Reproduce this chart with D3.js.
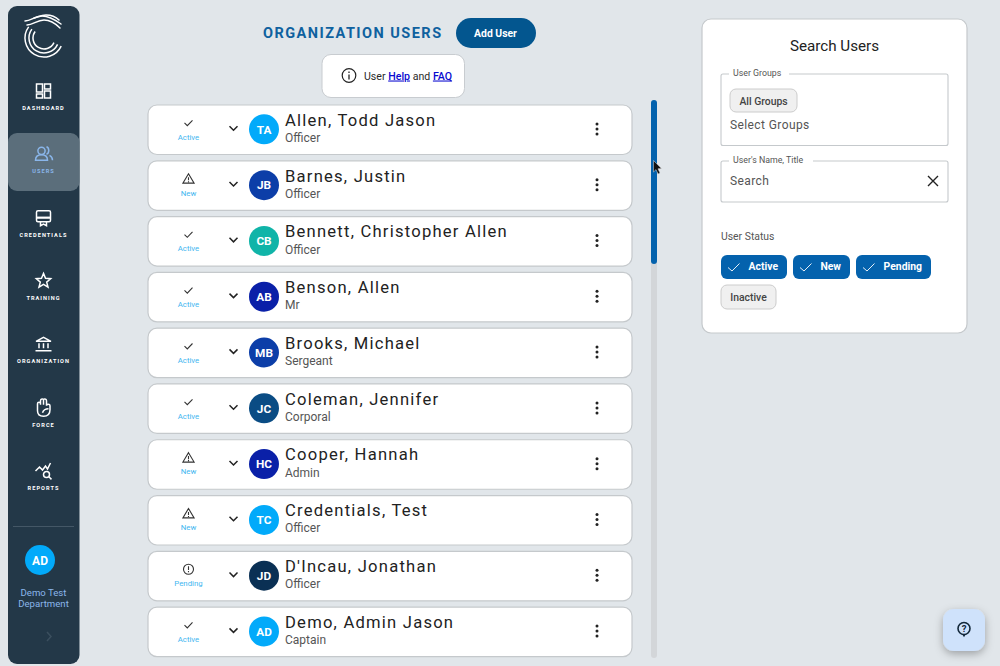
<!DOCTYPE html>
<html>
<head>
<meta charset="utf-8">
<script src="https://cdn.jsdelivr.net/npm/d3@7"></script>
<style>
  html, body { margin: 0; padding: 0; background: #e1e6ea; overflow: hidden; }
  svg { display: block; font-family: Roboto, sans-serif; }
</style>
</head>
<body>
<div id="app"></div>
<script>
// Data
const userNames = ["Allen, Todd Jason", "Barnes, Justin", "Bennett, Christopher Allen", "Benson, Allen", "Brooks, Michael",
  "Coleman, Jennifer", "Cooper, Hannah", "Credentials, Test", "D'Incau, Jonathan", "Demo, Admin Jason"];
const userTitles = ["Officer", "Officer", "Officer", "Mr", "Sergeant", "Corporal", "Admin", "Officer", "Officer", "Captain"];
const userStatuses = ["Active", "New", "Active", "Active", "Active", "Active", "New", "New", "Pending", "Active"];
const userInitials = ["TA", "JB", "CB", "AB", "MB", "JC", "HC", "TC", "JD", "AD"];
const navLabels = ["DASHBOARD", "USERS", "CREDENTIALS", "TRAINING", "ORGANIZATION", "FORCE", "REPORTS"];
const deptLines = ["Demo Test", "Department"];
const statusFilters = ["Active", "New", "Pending"];

const width = 1000, height = 666;

const svg = d3.select("#app").append("svg")
  .attr("width", width)
  .attr("height", height);

svg.append("rect").attr("width", width).attr("height", height).attr("fill", "#e1e6ea");

const defs = svg.append("defs");
const blur = defs.append("filter").attr("id", "shadow").attr("x", "-40%").attr("y", "-40%").attr("width", "180%").attr("height", "180%");
blur.append("feDropShadow").attr("dx", 0).attr("dy", 3).attr("stdDeviation", 4).attr("flood-color", "#000").attr("flood-opacity", 0.3);

// Scales
const rowScale = d3.scaleBand().domain(userNames).range([105, 656.6]).paddingInner(0.113).paddingOuter(0);
const navScale = d3.scalePoint().domain(navLabels).range([110, 490]);
const avatarColor = d3.scaleOrdinal()
  .domain(userInitials)
  .range(["#02aafa", "#0c3ea8", "#10b4a8", "#0a20a8", "#0c3ea8", "#0a4c84", "#0a20a8", "#02aafa", "#0a3054", "#02aafa"]);
const chipX = d3.scaleOrdinal().domain(statusFilters).range([721, 793, 856]);
const chipW = d3.scaleOrdinal().domain(statusFilters).range([66, 57, 75]);

// Sidebar
const side = svg.append("g");
side.append("rect").attr("x", 8).attr("y", 6).attr("width", 71.5).attr("height", 658).attr("rx", 9).attr("fill", "#233848");
side.append("rect").attr("x", 8).attr("y", 133).attr("width", 71.5).attr("height", 58).attr("rx", 9).attr("fill", "#5b6e7b");

// Logo: nested arcs with waves on top
const logo = side.append("g").attr("fill", "none").attr("stroke", "#fff").attr("stroke-width", 1.5).attr("stroke-linecap", "round");
[19, 15, 11].forEach(r => {
  logo.append("path")
    .attr("transform", "translate(44,38)")
    .attr("d", d3.arc().innerRadius(r).outerRadius(r).startAngle(-0.3 * Math.PI).endAngle(-1.36 * Math.PI)());
});
logo.append("path").attr("d", "M25 21C31 21 35 16 42 16C49 16 54 19 61 24");
logo.append("path").attr("d", "M27 25C33 25 37 20 44 20C50 20 55 23 60 28");
logo.append("path").attr("d", "M34 18C38 17 41 15 46 15C51 15 55 16 59 20");

// Nav icons, one path set per label, drawn around (0,0)
const navIcons = {
  DASHBOARD: g => {
    [[-7, -7, 6, 8], [1, -7, 6, 5], [-7, 3, 6, 4], [1, 0, 6, 7]].forEach(r => {
      g.append("rect").attr("x", r[0]).attr("y", r[1]).attr("width", r[2]).attr("height", r[3]);
    });
  },
  USERS: g => {
    g.append("circle").attr("cx", -2).attr("cy", -3.5).attr("r", 3.6);
    g.append("path").attr("d", "M-8 6C-8 1 -5 0.5 -2 0.5C1 0.5 4 1 4 6Z");
    g.append("path").attr("d", "M3 -7.5C6 -6.5 6 -1 3 0M6 1C8 2 9 3 9 6");
  },
  CREDENTIALS: g => {
    g.append("rect").attr("x", -7).attr("y", -7).attr("width", 14).attr("height", 11).attr("rx", 1.5);
    g.append("path").attr("d", "M-7 0H7").attr("stroke-width", 2.2);
    g.append("path").attr("d", "M-3 4V8L0 6.4L3 8V4");
  },
  TRAINING: g => {
    g.append("path").attr("d", d3.range(10).map(i => {
      const r = i % 2 ? 3.4 : 7.6, a = -Math.PI / 2 + i * Math.PI / 5;
      return (i ? "L" : "M") + (r * Math.cos(a)).toFixed(1) + " " + (r * Math.sin(a)).toFixed(1);
    }).join("") + "Z");
  },
  ORGANIZATION: g => {
    g.append("path").attr("d", "M-7.5 -3L0 -7L7.5 -3ZM-8 6.5H8M-4.5 -1V4M0 -1V4M4.5 -1V4");
  },
  FORCE: g => {
    g.append("path").attr("d", "M-6 -4V3C-6 7 -3 8.5 0 8.5C4 8.5 6.5 6 6.5 2V-2M-3 -3V-7M0 -3V-8M3 -2V-7M-6 -4C-6 -6 -3 -6 -3 -4M-3 -7C-3 -9 0 -9 0 -8M0 -8C0 -9 3 -9 3 -7M3 -2C3 -4 6.5 -4 6.5 -2M-1 5C0 2 3 1 5 1");
  },
  REPORTS: g => {
    g.append("path").attr("d", "M-8 0L-4 -4L-1 -1L2 -5L4 -2L7 -8");
    g.append("circle").attr("cx", 3).attr("cy", 3.5).attr("r", 3);
    g.append("path").attr("d", "M5.4 5.8L8 8.4");
  }
};

const nav = side.selectAll("g.nav").data(navLabels).enter().append("g")
  .attr("class", "nav")
  .attr("transform", d => `translate(43.5,${navScale(d)})`);
nav.each(function (d) {
  const g = d3.select(this).append("g")
    .attr("transform", "translate(0,-19)")
    .attr("fill", "none")
    .attr("stroke", d === "USERS" ? "#8ab6ea" : "#fff")
    .attr("stroke-width", 1.5);
  navIcons[d](g);
});
nav.append("text")
  .attr("text-anchor", "middle")
  .attr("font-size", 5.6)
  .attr("font-weight", 700)
  .attr("letter-spacing", 1.05)
  .attr("fill", d => d === "USERS" ? "#8ab6ea" : "#fff")
  .text(d => d);

side.append("line").attr("x1", 13).attr("x2", 74).attr("y1", 526.5).attr("y2", 526.5).attr("stroke", "#445766");
side.append("circle").attr("cx", 40).attr("cy", 560).attr("r", 15).attr("fill", "#02aafa");
side.append("text").attr("x", 40).attr("y", 564.5).attr("text-anchor", "middle").attr("font-size", 12).attr("font-weight", 700).attr("fill", "#fff").text("AD");
side.selectAll("text.dept").data(deptLines).enter().append("text")
  .attr("class", "dept")
  .attr("x", 43.5).attr("y", (d, i) => 596 + i * 11)
  .attr("text-anchor", "middle").attr("font-size", 9.6).attr("fill", "#8ab6ea").text(d => d);
side.append("path").attr("d", "M47 632L51 636.5L47 641").attr("fill", "none").attr("stroke", "#3b4f5e").attr("stroke-width", 1.5);

// Header
svg.append("text").attr("x", 263).attr("y", 38).attr("font-size", 14.5).attr("font-weight", 700)
  .attr("letter-spacing", 1.47).attr("fill", "#0f619f").text("ORGANIZATION USERS");
svg.append("rect").attr("x", 456).attr("y", 18).attr("width", 80).attr("height", 30).attr("rx", 15).attr("fill", "#03568f");
svg.append("text").attr("x", 495.5).attr("y", 37).attr("text-anchor", "middle").attr("font-size", 10.4).attr("font-weight", 700).attr("fill", "#fff").text("Add User");

svg.append("rect").attr("x", 322).attr("y", 54.5).attr("width", 142.5).attr("height", 43).attr("rx", 9)
  .attr("fill", "#fff").attr("stroke", "#c8ccd0");
svg.append("circle").attr("cx", 349).attr("cy", 75.5).attr("r", 6.8).attr("fill", "none").attr("stroke", "#222").attr("stroke-width", 1.2);
svg.append("path").attr("d", "M349 74.5V79.5M349 71.5V73").attr("stroke", "#222").attr("stroke-width", 1.3);
const help = svg.append("text").attr("x", 364).attr("y", 79.5).attr("font-size", 10.6).attr("fill", "#2a2a2a");
help.append("tspan").text("User ");
help.append("tspan").attr("fill", "#0a0ad0").attr("font-weight", 500).attr("text-decoration", "underline").text("Help");
help.append("tspan").text(" and ");
help.append("tspan").attr("fill", "#0a0ad0").attr("font-weight", 500).attr("text-decoration", "underline").text("FAQ");

// User rows
const rows = svg.selectAll("g.row").data(userNames).enter().append("g")
  .attr("class", "row")
  .attr("transform", d => `translate(0,${rowScale(d)})`);
const rowH = rowScale.bandwidth();
const midY = rowH / 2;

rows.append("rect").attr("x", 148).attr("y", 0).attr("width", 484).attr("height", rowH).attr("rx", 9)
  .attr("fill", "#fff").attr("stroke", "#c5c9cc").attr("stroke-width", 1.2);

const statusIcon = {
  Active: g => g.append("path").attr("d", "M-4 0L-1.2 2.8L4 -2.6").attr("fill", "none").attr("stroke", "#333").attr("stroke-width", 1.1),
  New: g => g.append("path").attr("d", "M0 -5L5.6 4.4H-5.6ZM0 -1.6V1.6M0 2.4V3.5").attr("fill", "none").attr("stroke", "#333").attr("stroke-width", 1.1),
  Pending: g => {
    g.append("circle").attr("r", 5).attr("fill", "none").attr("stroke", "#333").attr("stroke-width", 1.1);
    g.append("path").attr("d", "M0 -3V0.8M0 1.8V3").attr("stroke", "#333").attr("stroke-width", 1.1);
  }
};

rows.each(function (d, i) {
  const row = d3.select(this);
  const status = userStatuses[i];
  statusIcon[status](row.append("g").attr("transform", `translate(188.5,${midY - 6.8})`));
  row.append("text").attr("x", 188.5).attr("y", midY + 10).attr("text-anchor", "middle")
    .attr("font-size", 7.8).attr("fill", "#3fb6f0").text(status);

  row.append("path").attr("d", `M229.5 ${midY - 3.5}L233.5 ${midY + 0.5}L237.5 ${midY - 3.5}`)
    .attr("fill", "none").attr("stroke", "#222").attr("stroke-width", 1.5);

  row.append("circle").attr("cx", 264).attr("cy", midY - 0.4).attr("r", 15).attr("fill", avatarColor(userInitials[i]));
  row.append("text").attr("x", 264).attr("y", midY + 3.9).attr("text-anchor", "middle")
    .attr("font-size", 11.8).attr("font-weight", 700).attr("fill", "#fff").text(userInitials[i]);

  row.append("text").attr("x", 285).attr("y", midY - 4).attr("font-size", 16.6).attr("letter-spacing", 1.22)
    .attr("fill", "#222").text(d);
  row.append("text").attr("x", 285).attr("y", midY + 12.2).attr("font-size", 12).attr("fill", "#555").text(userTitles[i]);

  row.selectAll("circle.dot").data([-5, 0, 5]).enter().append("circle")
    .attr("class", "dot").attr("cx", 597).attr("cy", y => midY - 0.8 + y).attr("r", 1.5).attr("fill", "#222");
});

// Scrollbar and mouse pointer
svg.append("rect").attr("x", 651).attr("y", 100).attr("width", 6).attr("height", 558).attr("rx", 3).attr("fill", "#d3d6d9");
svg.append("rect").attr("x", 651).attr("y", 100).attr("width", 6).attr("height", 164).attr("rx", 3).attr("fill", "#0462ad");
svg.append("path").attr("d", "M653.5 160.5V172L656 169.6L658 174L660 173L658 168.8L661.5 168.6Z")
  .attr("fill", "#111").attr("stroke", "#ddd").attr("stroke-width", 0.5);

// Search panel
const panel = svg.append("g");
panel.append("rect").attr("x", 702).attr("y", 19).attr("width", 265).attr("height", 314).attr("rx", 9)
  .attr("fill", "#fff").attr("stroke", "#c5c9cc").attr("stroke-width", 1.2);
panel.append("text").attr("x", 834.5).attr("y", 51).attr("text-anchor", "middle").attr("font-size", 15.2).attr("fill", "#222").text("Search Users");

function fieldBox(y, h, label, labelW) {
  panel.append("rect").attr("x", 721).attr("y", y).attr("width", 227).attr("height", h).attr("rx", 2)
    .attr("fill", "#fff").attr("stroke", "#c5c9cc").attr("stroke-width", 1.1);
  panel.append("rect").attr("x", 729).attr("y", y - 2).attr("width", labelW).attr("height", 4).attr("fill", "#fff");
  panel.append("text").attr("x", 733).attr("y", y + 2).attr("font-size", 8.8).attr("fill", "#555").text(label);
}

fieldBox(74, 71.5, "User Groups", 60);
panel.append("rect").attr("x", 730).attr("y", 89).attr("width", 67).attr("height", 23).attr("rx", 6)
  .attr("fill", "#f0f0f0").attr("stroke", "#ccc");
panel.append("text").attr("x", 763.5).attr("y", 104.5).attr("text-anchor", "middle").attr("font-size", 10.4).attr("font-weight", 500).attr("fill", "#444").text("All Groups");
panel.append("text").attr("x", 730).attr("y", 129).attr("font-size", 12).attr("letter-spacing", 0.4).attr("fill", "#555").text("Select Groups");

fieldBox(161, 41, "User's Name, Title", 84);
panel.append("text").attr("x", 730).attr("y", 185).attr("font-size", 12).attr("letter-spacing", 0.4).attr("fill", "#555").text("Search");
panel.append("path").attr("d", "M928 176L938 186M938 176L928 186").attr("stroke", "#222").attr("stroke-width", 1.4);

panel.append("text").attr("x", 721).attr("y", 239.5).attr("font-size", 10.4).attr("fill", "#555").text("User Status");

const chips = panel.selectAll("g.chip").data(statusFilters).enter().append("g")
  .attr("class", "chip")
  .attr("transform", d => `translate(${chipX(d)},255)`);
chips.append("rect").attr("width", d => chipW(d)).attr("height", 24).attr("rx", 6).attr("fill", "#0462ad");
chips.append("path").attr("d", "M7 12.5L11 16L18.5 8.5").attr("fill", "none").attr("stroke", "#fff").attr("stroke-width", 0.9);
chips.append("text").attr("x", d => chipW(d) - 9).attr("y", 15.3).attr("text-anchor", "end")
  .attr("font-size", 10.4).attr("font-weight", 700).attr("fill", "#fff").text(d => d);

panel.append("rect").attr("x", 721).attr("y", 285).attr("width", 55).attr("height", 24).attr("rx", 6)
  .attr("fill", "#f0f0f0").attr("stroke", "#ccc");
panel.append("text").attr("x", 748.5).attr("y", 300.5).attr("text-anchor", "middle").attr("font-size", 10.4).attr("font-weight", 500).attr("fill", "#444").text("Inactive");

// Help button
svg.append("rect").attr("x", 943).attr("y", 609).attr("width", 42).attr("height", 42).attr("rx", 11)
  .attr("fill", "#cfe2fb").attr("filter", "url(#shadow)");
svg.append("circle").attr("cx", 964).attr("cy", 628.5).attr("r", 6).attr("fill", "none").attr("stroke", "#13283a").attr("stroke-width", 1.6);
svg.append("path").attr("d", "M962 634L964 637.2L966 634Z").attr("fill", "#13283a");
svg.append("text").attr("x", 964).attr("y", 632).attr("text-anchor", "middle").attr("font-size", 9.5).attr("font-weight", 700).attr("fill", "#13283a").text("?");
</script>
</body>
</html>
